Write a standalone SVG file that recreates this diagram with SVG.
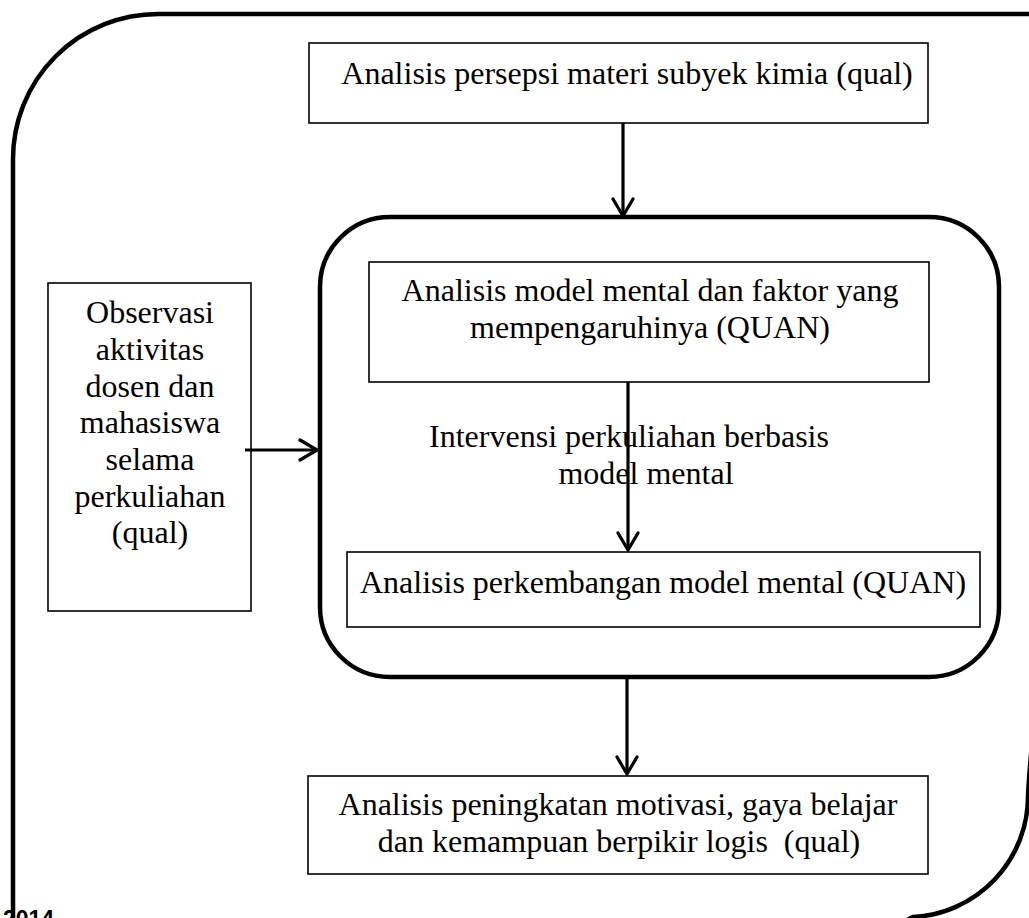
<svg xmlns="http://www.w3.org/2000/svg" width="1029" height="918" viewBox="0 0 1029 918">
<style>
.t{font-family:"Liberation Serif","Times New Roman",serif;font-size:32px;fill:#000;text-anchor:middle}
.box{fill:#fff;stroke:#000;stroke-width:1.6}
.frame{fill:none;stroke:#000;stroke-width:4.5}
.conn{fill:none;stroke:#000;stroke-width:3.2}
.yr{font-family:"Liberation Sans",Arial,sans-serif;font-weight:bold;font-size:23px;fill:#000}
</style>
<defs>
<marker id="arr" markerWidth="24" markerHeight="24" viewBox="-22 -12 24 24" refX="0" refY="0" orient="auto" markerUnits="userSpaceOnUse">
<path d="M -17 -10 L 0 0 L -17 10" fill="none" stroke="#000" stroke-width="3.2" stroke-linecap="round" stroke-linejoin="round"/>
</marker>
</defs>
<rect width="1029" height="918" fill="#fff"/>
<g id="outer-frame">
<path class="frame" d="M 13 930 V 159 A 145 145 0 0 1 158 14 H 1045"/>
<path class="frame" d="M 1037 690 C 1033 735, 1029 770, 1028 796 A 121 121 0 0 1 913 917 C 905 921, 895 926, 880 934"/>
</g>
<g id="year"><text class="yr" x="3" y="927">2014</text></g>
<g id="n-persepsi">
<rect class="box" x="309" y="43" width="619" height="80"/>
<text class="t" x="627" y="84">Analisis persepsi materi subyek kimia (qual)</text>
</g>
<g id="n-container">
<rect class="frame" x="320" y="217" width="679" height="460" rx="70" ry="70"/>
</g>
<g id="n-modelmental">
<rect class="box" x="369" y="262" width="560" height="120"/>
<text class="t" x="650" y="301">Analisis model mental dan faktor yang</text>
<text class="t" x="650" y="338">mempengaruhinya (QUAN)</text>
</g>
<g id="n-perkembangan">
<rect class="box" x="347" y="552" width="633" height="75"/>
<text class="t" x="663" y="593">Analisis perkembangan model mental (QUAN)</text>
</g>
<g id="n-observasi">
<rect class="box" x="48" y="283" width="203" height="328"/>
<text class="t" x="150" y="323">Observasi</text>
<text class="t" x="150" y="360">aktivitas</text>
<text class="t" x="150" y="397">dosen dan</text>
<text class="t" x="150" y="433">mahasiswa</text>
<text class="t" x="150" y="470">selama</text>
<text class="t" x="150" y="507">perkuliahan</text>
<text class="t" x="150" y="543">(qual)</text>
</g>
<g id="n-peningkatan">
<rect class="box" x="308" y="776" width="620" height="98"/>
<text class="t" x="618" y="815">Analisis peningkatan motivasi, gaya belajar</text>
<text class="t" x="619" y="852">dan kemampuan berpikir logis&#160; (qual)</text>
</g>
<g id="connectors">
<line class="conn" x1="623" y1="123" x2="623" y2="216" marker-end="url(#arr)"/>
<line class="conn" x1="628" y1="382" x2="628" y2="550" marker-end="url(#arr)"/>
<line class="conn" x1="627" y1="679" x2="627" y2="774" marker-end="url(#arr)"/>
<line class="conn" x1="245" y1="450" x2="317" y2="450" marker-end="url(#arr)"/>
</g>
<g id="label-intervensi">
<text class="t" x="629" y="447">Intervensi perkuliahan berbasis</text>
<text class="t" x="646" y="484">model mental</text>
</g>
</svg>
